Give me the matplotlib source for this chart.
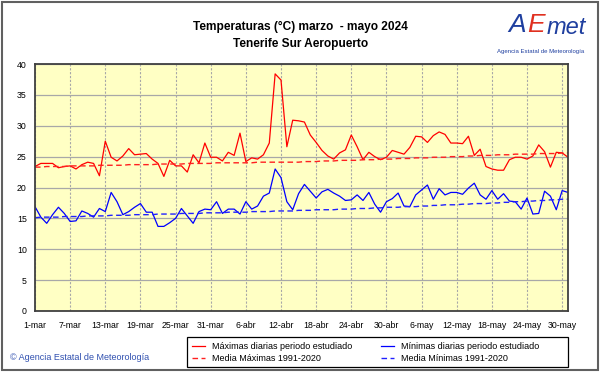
import numpy as np
import matplotlib
matplotlib.use("Agg")
import matplotlib.pyplot as plt
from matplotlib.patches import Rectangle

plt.rcParams['font.family'] = ['Liberation Sans', 'DejaVu Sans']

# Daily maxima / minima, 1 March - 31 May 2024 (deg C)
tmax = [23.4, 23.9, 23.9, 23.9, 23.2, 23.4, 23.5, 23.0, 23.7, 24.1,
        23.9, 21.9, 27.5, 24.9, 24.3, 25.1, 26.3, 25.3, 25.4, 25.5,
        24.6, 23.9, 21.8, 24.4, 23.5, 23.5, 22.5, 25.3, 24.0, 27.2,
        24.9, 24.9, 24.3, 25.7, 25.2, 28.8, 24.2, 24.8, 24.6, 25.3,
        27.2, 38.4, 37.4, 26.6, 30.9, 30.8, 30.6, 28.5, 27.3, 26.0,
        25.1, 24.6, 25.6, 26.1, 28.5, 26.6, 24.5, 25.7, 25.0, 24.5,
        24.9, 26.0, 25.7, 25.4, 26.5, 28.3, 28.2, 27.3, 28.4, 29.0,
        28.6, 27.2, 27.2, 27.1, 28.3, 25.2, 26.2, 23.4, 23.0, 22.8,
        22.8, 24.5, 24.9, 24.9, 24.6, 25.1, 26.9, 25.8, 23.3, 25.7,
        25.6, 24.9]
tmin = [16.9, 15.2, 14.2, 15.6, 16.8, 15.8, 14.5, 14.6, 16.2, 15.8,
        15.2, 16.6, 16.1, 19.2, 17.7, 15.6, 16.1, 16.8, 17.4, 16.0,
        16.0, 13.7, 13.7, 14.3, 15.0, 16.6, 15.4, 14.2, 16.1, 16.5,
        16.4, 17.7, 15.8, 16.5, 16.5, 15.7, 17.7, 16.5, 17.0, 18.6,
        19.1, 23.0, 21.6, 17.7, 16.4, 19.0, 20.5, 19.4, 18.3, 19.3,
        19.7, 19.1, 18.6, 17.9, 18.0, 18.8, 17.9, 19.2, 17.3, 16.0,
        17.7, 18.2, 19.1, 17.0, 16.9, 18.8, 19.6, 20.4, 18.1, 19.8,
        18.8, 19.2, 19.2, 18.9, 19.9, 20.7, 18.8, 18.1, 19.5, 18.1,
        19.0, 17.8, 17.7, 16.5, 18.3, 15.7, 15.8, 19.4, 18.6, 16.4,
        19.5, 19.2]

# Climatological means 1991-2020
mean_max = [23.3, 23.3, 23.4, 23.4, 23.4, 23.4, 23.5, 23.5, 23.5, 23.5,
            23.5, 23.6, 23.6, 23.6, 23.6, 23.6, 23.7, 23.7, 23.7, 23.7,
            23.7, 23.8, 23.8, 23.8, 23.8, 23.8, 23.9, 23.9, 23.9, 23.9,
            23.9, 24.0, 24.0, 24.0, 24.0, 24.0, 24.0, 24.0, 24.1, 24.1,
            24.1, 24.1, 24.1, 24.1, 24.1, 24.1, 24.2, 24.2, 24.2, 24.3,
            24.3, 24.3, 24.4, 24.4, 24.4, 24.4, 24.5, 24.5, 24.5, 24.6,
            24.6, 24.6, 24.7, 24.7, 24.7, 24.8, 24.8, 24.8, 24.9, 24.9,
            24.9, 25.0, 25.0, 25.0, 25.1, 25.1, 25.2, 25.2, 25.2, 25.3,
            25.3, 25.3, 25.4, 25.4, 25.4, 25.4, 25.5, 25.5, 25.5, 25.5,
            25.6, 25.6]
mean_min = [15.1, 15.2, 15.2, 15.2, 15.2, 15.3, 15.3, 15.3, 15.3, 15.4,
            15.4, 15.4, 15.4, 15.5, 15.5, 15.5, 15.5, 15.6, 15.6, 15.6,
            15.6, 15.7, 15.7, 15.7, 15.7, 15.8, 15.8, 15.8, 15.8, 15.9,
            15.9, 15.9, 15.9, 16.0, 16.0, 16.0, 16.0, 16.1, 16.1, 16.1,
            16.1, 16.2, 16.2, 16.2, 16.2, 16.3, 16.3, 16.3, 16.4, 16.4,
            16.4, 16.4, 16.5, 16.5, 16.5, 16.6, 16.6, 16.6, 16.7, 16.7,
            16.8, 16.8, 16.8, 16.9, 16.9, 16.9, 17.0, 17.0, 17.1, 17.1,
            17.2, 17.2, 17.2, 17.3, 17.3, 17.4, 17.4, 17.4, 17.5, 17.5,
            17.6, 17.6, 17.7, 17.7, 17.8, 17.8, 17.9, 17.9, 18.0, 18.0,
            18.1, 18.1]

tick_labels = ["1-mar", "7-mar", "13-mar", "19-mar", "25-mar", "31-mar",
               "6-abr", "12-abr", "18-abr", "24-abr", "30-abr",
               "6-may", "12-may", "18-may", "24-may", "30-may"]

days = np.arange(len(tmax))

fig = plt.figure(figsize=(6.01, 3.74), dpi=100)
ax = fig.add_axes([35 / 601, 63 / 374, 533 / 601, 247 / 374])
ax.set_facecolor('#ffffc4')

ax.plot(days, tmax, color='#ff0000', lw=0.9, label='Máximas diarias periodo estudiado')
ax.plot(days, mean_max, color='#ff2020', lw=1.0, dashes=(4, 2.5), label='Media Máximas 1991-2020')
ax.plot(days, tmin, color='#0000ff', lw=0.9, label='Mínimas diarias periodo estudiado')
ax.plot(days, mean_min, color='#2020ff', lw=1.0, dashes=(4, 2.5), label='Media Mínimas 1991-2020')

ax.set_xlim(0, len(tmax) - 1)
ax.set_ylim(0, 40)
ax.set_yticks(np.arange(0, 41, 5))
ax.set_xticks(days[::6])
ax.set_xticklabels(tick_labels)
ax.tick_params(length=0, labelsize=6.3, colors='#000000')
ax.tick_params(axis='y', pad=6)
ax.tick_params(axis='x', pad=7)

ax.grid(axis='y', color='#a8a8a8', lw=0.9, ls='-')
ax.grid(axis='x', color='#a8a8a8', lw=0.8, ls=(0, (2, 1.5)))
ax.set_axisbelow(True)
for sp in ax.spines.values():
    sp.set_color('#404040')
    sp.set_linewidth(1.3)

fig.text(0.5, 1 - 27 / 374, "Temperaturas (°C) marzo  - mayo 2024", ha='center', va='center',
         fontsize=8.6, fontweight='bold')
fig.text(0.5, 1 - 44 / 374, "Tenerife Sur Aeropuerto", ha='center', va='center',
         fontsize=8.6, fontweight='bold')

# logo (approximation)
fig.text(526 / 601, 1 - 25 / 374, "A", ha='right', va='center', fontsize=19,
         color='#1f3f9f', style='italic')
fig.text(527 / 601, 1 - 25 / 374, "E", ha='left', va='center', fontsize=19,
         color='#e03020', style='italic')
fig.text(547 / 601, 1 - 27 / 374, "met", ha='left', va='center', fontsize=17,
         color='#1f3f9f', style='italic')
fig.text(541 / 601, 1 - 51 / 374, "Agencia Estatal de Meteorología", ha='center', va='center',
         fontsize=4.3, color='#2040a0')

fig.text(10 / 601, 1 - 357 / 374, "© Agencia Estatal de Meteorología", ha='left', va='center',
         fontsize=6.5, color='#3050b0')

# legend box drawn separately so the columns keep their spacing
fig.patches.append(Rectangle((187 / 601, 1 - 367 / 374), 381 / 601, 30 / 374,
                             transform=fig.transFigure, facecolor='white',
                             edgecolor='#000000', lw=0.9, zorder=1))
leg = fig.legend(loc='upper left', bbox_to_anchor=(187 / 601, 1 - 337 / 374),
                 ncol=2, fontsize=6.5, frameon=False,
                 handlelength=1.4, handletextpad=0.8, borderpad=0.6, labelspacing=0.25,
                 columnspacing=3.2, borderaxespad=0)
leg.set_zorder(2)

fig.patches.append(Rectangle((2 / 601, 4 / 374), 596 / 601, 368 / 374, transform=fig.transFigure,
                             fill=False, edgecolor='#606060', lw=1.5))

fig.savefig('out.png', dpi=100)
